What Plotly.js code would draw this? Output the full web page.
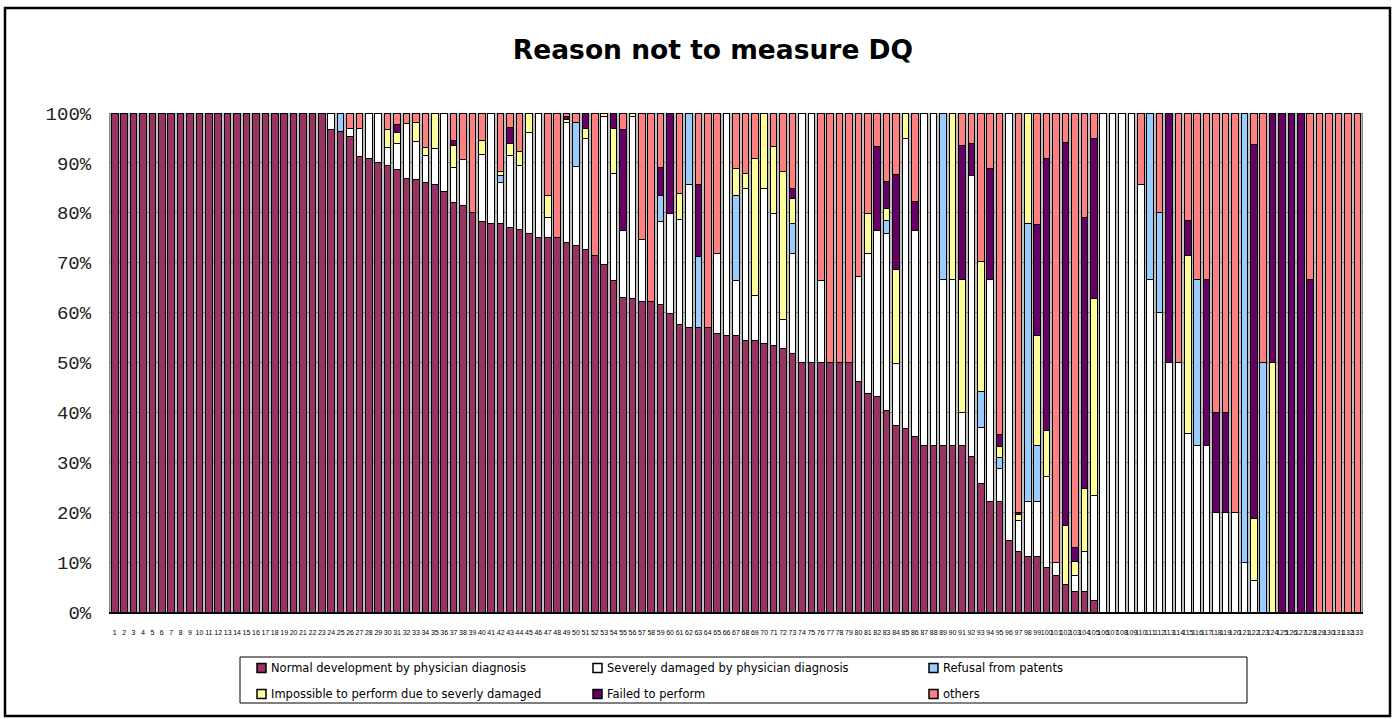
<!DOCTYPE html>
<html>
<head>
<meta charset="utf-8">
<script src="https://cdn.plot.ly/plotly-3.0.1.min.js"></script>
<style>
html,body{margin:0;padding:0;background:#fff;}
#chart{width:1395px;height:719px;}
</style>
</head>
<body>
<div id="chart"></div>
<script>
// ---------------- DATA ----------------
const categories = [
 '1','2','3','4','5','6','7','8','9','10',
 '11','12','13','14','15','16','17','18','19','20',
 '21','22','23','24','25','26','27','28','29','30',
 '31','32','33','34','35','36','37','38','39','40',
 '41','42','43','44','45','46','47','48','49','50',
 '51','52','53','54','55','56','57','58','59','60',
 '61','62','63','64','65','66','67','68','69','70',
 '71','72','73','74','75','76','77','78','79','80',
 '81','82','83','84','85','86','87','88','89','90',
 '91','92','93','94','95','96','97','98','99','100',
 '101','102','103','104','105','106','107','108','109','110',
 '111','112','113','114','115','116','117','118','119','120',
 '121','122','123','124','125','126','127','128','129','130',
 '131','132','133'
];

const normalDev = [
 100,100,100,100,100,100,100,100,100,100,
 100,100,100,100,100,100,100,100,100,100,
 100,100,100,96.7,96.2,95.2,91.2,90.9,90.0,89.5,
 88.6,86.9,86.6,86.1,85.6,84.3,82.1,81.5,80.0,78.2,
 77.8,77.8,77.0,76.7,75.9,75.0,75.0,75.0,74.1,73.5,
 72.7,71.4,69.7,66.4,63.1,62.9,62.2,62.2,61.7,59.8,
 57.7,57.1,57.1,57.1,55.8,55.5,55.5,54.5,54.5,53.8,
 53.4,52.9,51.9,50,50,50,50,50,50,46.1,
 43.8,43.1,40.4,37.4,36.8,35.1,33.3,33.3,33.3,33.3,
 33.3,31.2,25.8,22.2,22.2,14.3,12.1,11.1,11.1,9.0,
 7.3,5.6,4.1,4.1,2.4,0,0,0,0,0,
 0,0,0,0,0,0,0,0,0,0,
 0,0,0,0,0,0,0,0,0,0,
 0,0,0
];

const severelyDamaged = [
 0,0,0,0,0,0,0,0,0,0,
 0,0,0,0,0,0,0,0,0,0,
 0,0,0,3.3,0,1.6,5.7,9.1,10,3.5,
 5.3,11.0,7.6,5.4,7.2,15.7,7.0,9.2,0,13.5,
 22.2,8.2,14.4,12.8,20.2,25.0,4.0,0,23.9,15.7,
 22.1,0,29.6,21.4,13.4,36.4,12.5,0,16.5,20.0,
 21.0,28.5,0,0,16.0,44.5,11.0,30.4,8.9,31.0,
 26.5,5.8,20.0,50,50,16.5,0,0,0,21.2,
 28.1,33.4,35.4,12.5,58.1,41.3,66.7,66.7,33.3,33.3,
 6.6,56.3,11.1,44.4,6.5,85.7,6.2,11.1,11.1,18.2,
 2.6,0,3.2,8.1,20.9,100,100,100,100,85.7,
 66.7,60,50,50,35.7,33.3,33.3,20,20,20,
 10,6.25,0,0,0,0,0,0,0,0,
 0,0,0
];

const refusal = [
 0,0,0,0,0,0,0,0,0,0,
 0,0,0,0,0,0,0,0,0,0,
 0,0,0,0,3.8,0,0,0,0,0,
 0,0,0,0,0,0,0,0,0,0,
 0,1.5,0,0,0,0,0,0,0,8.8,
 0,0,0,0,0,0,0,0,5.2,0,
 0,14.4,14.1,0,0,0,16.9,0,0,0,
 0,0,6.0,0,0,0,0,0,0,0,
 0,0,2.7,0,0,0,0,0,33.4,0,
 0,0,7.3,0,2.3,0,0,55.6,11.1,0,
 0,0,0,0,0,0,0,0,0,0,
 33.3,20,0,0,0,33.3,0,0,0,0,
 90,0,50,0,0,0,0,0,0,0,
 0,0,0
];

const impossible = [
 0,0,0,0,0,0,0,0,0,0,
 0,0,0,0,0,0,0,0,0,0,
 0,0,0,0,0,0,0,0,0,3.6,
 2.2,0,3.9,1.6,7.2,0,4.4,0,0,2.8,
 0,0.8,2.5,2.7,3.9,0,4.4,0,0.7,0,
 2.0,0,0.7,9.0,0,0.7,0,0,0,0,
 5.2,0,0,0,0,0,5.5,3.0,27.5,15.2,
 13.4,29.5,5.0,0,0,0,0,0,0,0,
 7.9,0,2.3,18.7,5.1,0,0,0,0,33.4,
 26.7,0,26.0,0,2.2,0,1.2,22.2,22.2,9.1,
 0,11.7,2.9,12.5,39.6,0,0,0,0,0,
 0,0,0,0,35.7,0,0,0,0,0,
 0,12.5,0,50,0,0,0,0,0,0,
 0,0,0
];

const failed = [
 0,0,0,0,0,0,0,0,0,0,
 0,0,0,0,0,0,0,0,0,0,
 0,0,0,0,0,0,0,0,0,0,
 1.5,0,0,0,0,0,1.0,0,0,0,
 0,0,3.1,0,0,0,0,0,0.5,0,
 3.2,0,0,3.2,20.2,0,0,0,5.7,20.2,
 0,0,14.5,0,0,0,0,0,0,0,
 0,0,2.0,0,0,0,0,0,0,0,
 0,16.7,5.5,19.0,0,5.8,0,0,0,0,
 26.8,6.3,0,22.3,2.3,0,0.5,0,22.2,54.6,
 0,76.8,2.7,54.3,32.0,0,0,0,0,0,
 0,0,50,0,7.1,0,33.3,20,20,0,
 0,75,0,50,100,100,100,66.7,0,0,
 0,0,0
];

const others = [
 0,0,0,0,0,0,0,0,0,0,
 0,0,0,0,0,0,0,0,0,0,
 0,0,0,0,0,3.2,3.1,0,0,3.4,
 2.4,2.1,1.9,6.9,0,0,5.5,9.3,20.0,5.5,
 0,11.7,3.0,7.8,0,0,16.6,25.0,0.8,2.0,
 0,28.6,0,0,3.3,0,25.3,37.8,10.9,0,
 16.1,0,14.3,42.9,28.2,0,11.1,12.1,9.1,0,
 6.7,11.8,15.1,0,0,33.5,50,50,50,32.7,
 20.2,6.8,13.7,12.4,0,17.8,0,0,0,0,
 6.6,6.2,29.8,11.1,64.5,0,80.0,0,22.3,9.1,
 90.1,5.9,87.1,21.0,5.1,0,0,0,0,14.3,
 0,20,0,50,21.5,33.4,33.4,60,60,80,
 0,6.25,50,0,0,0,0,33.3,100,100,
 100,100,100
];

const seriesNames = [
 'Normal development by physician diagnosis',
 'Severely damaged by physician diagnosis',
 'Refusal from patents',
 'Impossible to perform due to severly damaged',
 'Failed to perform',
 'others'
];
const seriesData = [normalDev, severelyDamaged, refusal, impossible, failed, others];
const seriesColors = ['#993366', '#FFFFFF', '#99CCFF', '#FFFF99', '#660066', '#FF8080'];

const yTickValues = [0,10,20,30,40,50,60,70,80,90,100];
const yTickLabels = ['0%','10%','20%','30%','40%','50%','60%','70%','80%','90%','100%'];

const chartTitle = 'Reason not to measure DQ';

// ---------------- GEOMETRY (pixels) ----------------
const W = 1395, H = 719;
const PL = 110, PR = 1362, PT = 113, PB = 612;
const PW = PR - PL, PH = PB - PT;
const px = v => (v - PL) / PW;        // pixel x -> paper x
const py = v => (PB - v) / PH;        // pixel y -> paper y

// ---------------- TRACES ----------------
const traces = seriesData.map((arr, i) => ({
  type: 'bar',
  name: seriesNames[i],
  x: categories,
  y: arr.map(v => (v === 0 ? null : v)),
  marker: { color: seriesColors[i], line: { color: '#000000', width: 1 } },
  hovertemplate: '%{x}: %{y:.1f}%<extra>' + seriesNames[i] + '</extra>'
}));

// ---------------- LEGEND (drawn manually, Excel style) ----------------
const shapes = [];
const annotations = [];

// outer chart frame
shapes.push({
  type: 'rect', xref: 'paper', yref: 'paper',
  x0: px(5), x1: px(1390), y0: py(716), y1: py(8),
  line: { color: '#000000', width: 2.5 }, fillcolor: 'rgba(0,0,0,0)', layer: 'above'
});

// legend box
shapes.push({
  type: 'rect', xref: 'paper', yref: 'paper',
  x0: px(240), x1: px(1247), y0: py(703), y1: py(657),
  line: { color: '#000000', width: 1 }, fillcolor: '#FFFFFF', layer: 'above'
});

const legendColX = [257, 593, 929];
const legendRowY = [668, 694];
seriesNames.forEach((name, i) => {
  const col = i % 3, row = Math.floor(i / 3);
  const sx = legendColX[col], sy = legendRowY[row];
  shapes.push({
    type: 'rect', xref: 'paper', yref: 'paper',
    x0: px(sx), x1: px(sx + 9), y0: py(sy + 4.5), y1: py(sy - 4.5),
    line: { color: '#000000', width: 1.5 }, fillcolor: seriesColors[i], layer: 'above'
  });
  annotations.push({
    xref: 'paper', yref: 'paper', x: px(sx + 12), y: py(sy),
    xanchor: 'left', yanchor: 'middle', showarrow: false,
    text: name,
    font: { family: 'DejaVu Sans, Verdana, sans-serif', size: 11.5, color: '#000000' }
  });
});

// ---------------- LAYOUT ----------------
const layout = {
  width: W, height: H,
  margin: { l: PL, r: W - PR, t: PT, b: H - PB, pad: 0 },
  paper_bgcolor: '#FFFFFF',
  plot_bgcolor: '#C0C0C0',
  barmode: 'stack',
  barnorm: 'percent',
  bargap: 0.3,
  showlegend: false,
  title: {
    text: chartTitle,
    x: 713 / W, xref: 'container', xanchor: 'center',
    y: 1 - 50 / H, yref: 'container', yanchor: 'middle',
    font: { family: 'DejaVu Sans, Verdana, sans-serif', size: 26.5, weight: 'bold', color: '#000000' }
  },
  xaxis: {
    type: 'category',
    range: [-0.5, categories.length - 0.5],
    tickmode: 'array', tickvals: categories, ticktext: categories,
    tickangle: 0,
    tickfont: { family: 'Liberation Sans, Arial, sans-serif', size: 7, color: '#000000' },
    ticks: '', ticklabelstandoff: 13,
    showgrid: false, zeroline: false,
    showline: true, linecolor: '#000000', linewidth: 1.5,
    fixedrange: true
  },
  yaxis: {
    range: [0, 100],
    tickmode: 'array', tickvals: yTickValues, ticktext: yTickLabels,
    tickfont: { family: 'Liberation Mono, Courier New, monospace', size: 19, color: '#222222' },
    ticks: '', ticklabelstandoff: 14,
    showgrid: true, gridcolor: '#808080', gridwidth: 1,
    zeroline: false,
    showline: true, linecolor: '#808080', linewidth: 1, mirror: true,
    fixedrange: true
  },
  shapes: shapes,
  annotations: annotations
};

Plotly.newPlot('chart', traces, layout, { displayModeBar: false, staticPlot: false });
</script>
</body>
</html>
